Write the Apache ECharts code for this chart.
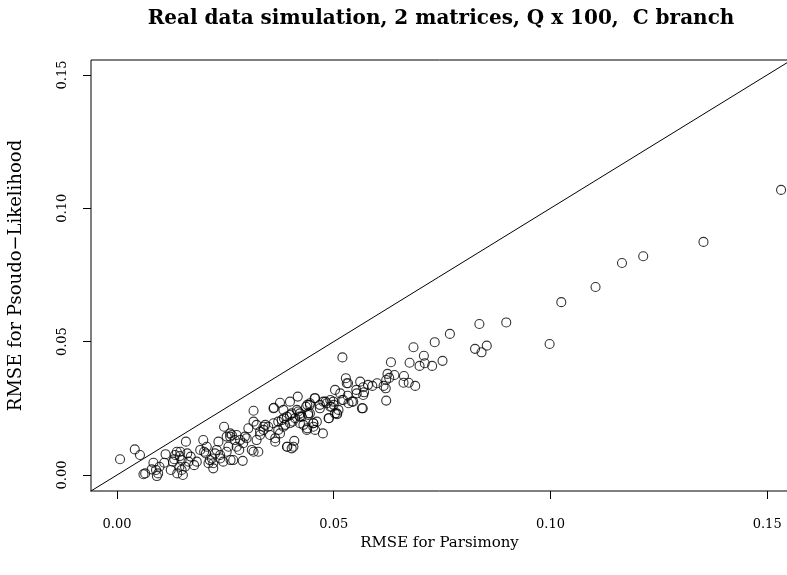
<!DOCTYPE html>
<html><head><meta charset="utf-8">
<script src="https://cdn.jsdelivr.net/npm/echarts@6/dist/echarts.min.js"></script>
<style>html,body{margin:0;padding:0;background:#fff}#c{width:787px;height:575px}</style>
</head><body><div id="c"></div>
<script>
const chartTitle = 'Real data simulation, 2 matrices, Q x 100,  C branch';
const xTitle = 'RMSE for Parsimony';
const yTitle = 'RMSE for Psoudo\u2212Likelihood';
const xTicks = [0, 0.05, 0.10, 0.15];
const yTicks = [0, 0.05, 0.10, 0.15];
const xRange = [-0.006, 0.1548];
const yRange = [-0.006, 0.1556];
// y = x reference line
const identityLine = [[-0.02, -0.02], [0.2, 0.2]];
// [RMSE Parsimony, RMSE Pseudo-Likelihood]
const rmsePairs = [
[0.0007,0.0059],[0.0041,0.0096],[0.0053,0.0075],[0.0061,0.0003],[0.0065,0.0006],[0.0084,0.0046],[0.0080,0.0021],[0.0090,0.0019],[0.0095,0.0006],[0.0092,-0.0004],
[0.0098,0.0031],[0.0109,0.0046],[0.0112,0.0078],[0.0124,0.0019],[0.0129,0.0050],[0.0134,0.0075],[0.0146,0.0087],[0.0149,0.0056],[0.0139,0.0006],[0.0152,0.0000],
[0.0159,0.0125],[0.0157,0.0031],[0.0165,0.0050],[0.0162,0.0081],[0.0170,0.0069],[0.0178,0.0037],[0.0184,0.0050],[0.0192,0.0094],[0.0199,0.0131],[0.0205,0.0081],
[0.0207,0.0106],[0.0214,0.0056],[0.0222,0.0044],[0.0226,0.0081],[0.0234,0.0125],[0.0238,0.0062],[0.0247,0.0181],[0.0253,0.0144],[0.0257,0.0106],
[0.0132,0.0059],[0.0138,0.0087],[0.0145,0.0071],[0.0144,0.0031],[0.0149,0.0019],[0.0201,0.0087],[0.0211,0.0044],[0.0219,0.0062],[0.0222,0.0025],[0.0230,0.0094],
[0.0238,0.0075],[0.0245,0.0050],[0.0261,0.0144],[0.0268,0.0056],[0.0253,0.0087],
[0.0265,0.0150],[0.0272,0.0131],[0.0276,0.0106],[0.0262,0.0056],[0.0290,0.0053],[0.0282,0.0094],[0.0291,0.0119],[0.0299,0.0138],[0.0303,0.0175],[0.0315,0.0241],
[0.0311,0.0094],[0.0315,0.0087],[0.0326,0.0087],[0.0322,0.0131],[0.0330,0.0150],[0.0338,0.0169],[0.0342,0.0188],[0.0349,0.0181],[0.0361,0.0250],[0.0376,0.0271],
[0.0365,0.0138],[0.0376,0.0156],[0.0372,0.0200],[0.0385,0.0213],[0.0384,0.0181],[0.0392,0.0106],[0.0407,0.0106],[0.0409,0.0128],[0.0415,0.0244],[0.0417,0.0294],
[0.0399,0.0225],[0.0405,0.0200],[0.0422,0.0219],[0.0430,0.0188],[0.0438,0.0169],[0.0453,0.0181],[0.0457,0.0288],[0.0445,0.0263],[0.0441,0.0231],[0.0461,0.0200],
[0.0475,0.0156],[0.0488,0.0213],[0.0484,0.0269],[0.0495,0.0256],[0.0499,0.0275],[0.0507,0.0231],[0.0503,0.0319],[0.0522,0.0281],[0.0530,0.0344],[0.0534,0.0269],
[0.0542,0.0275],[0.0567,0.0250],[0.0553,0.0306],[0.0568,0.0300],
[0.0362,0.0252],[0.0295,0.0144],[0.0315,0.0200],[0.0322,0.0188],[0.0330,0.0163],[0.0338,0.0181],[0.0353,0.0150],[0.0361,0.0194],[0.0365,0.0125],[0.0372,0.0169],
[0.0380,0.0206],[0.0388,0.0188],[0.0392,0.0219],[0.0399,0.0194],[0.0403,0.0231],[0.0411,0.0213],[0.0418,0.0238],[0.0422,0.0194],[0.0426,0.0219],[0.0436,0.0256],
[0.0441,0.0225],[0.0445,0.0269],[0.0453,0.0194],[0.0468,0.0263],[0.0476,0.0275],[0.0492,0.0281],[0.0503,0.0231],[0.0511,0.0244],[0.0403,0.0100],
[0.0261,0.0156],[0.0276,0.0150],[0.0284,0.0131],
[0.0836,0.0566],[0.0768,0.0529],[0.0733,0.0498],[0.0684,0.0479],[0.0826,0.0473],[0.0853,0.0485],[0.0841,0.0460],[0.0708,0.0447],[0.0675,0.0421],[0.0632,0.0423],
[0.0698,0.0409],[0.0710,0.0419],[0.0727,0.0409],[0.0751,0.0428],[0.0520,0.0441],[0.0624,0.0379],[0.0640,0.0375],[0.0662,0.0371],[0.0661,0.0346],[0.0673,0.0346],
[0.0688,0.0334],[0.0621,0.0356],[0.0628,0.0364],[0.0615,0.0334],[0.0620,0.0325],[0.0600,0.0344],[0.0589,0.0334],[0.0579,0.0338],[0.0561,0.0350],[0.0568,0.0329],
[0.0570,0.0310],[0.0552,0.0319],[0.0528,0.0363],[0.0533,0.0344],[0.0515,0.0306],[0.0532,0.0297],[0.0519,0.0281],[0.0545,0.0275],[0.0565,0.0250],[0.0621,0.0279],
[0.0456,0.0288],[0.0481,0.0275],[0.0492,0.0256],[0.0500,0.0263],[0.0439,0.0263],[0.0445,0.0231],[0.0468,0.0250],[0.0489,0.0213],[0.0508,0.0228],[0.0453,0.0194],
[0.0457,0.0169],[0.0439,0.0175],[0.0393,0.0106],[0.0384,0.0244],[0.0399,0.0275],[0.0422,0.0231],
[0.1532,0.1069],[0.1353,0.0874],[0.1214,0.0820],[0.1165,0.0795],[0.1104,0.0705],[0.1025,0.0648],[0.0898,0.0572],[0.0998,0.0491]
];

const font = 'DejaVu Serif';
const chart = echarts.init(document.getElementById('c'), null, {renderer: 'canvas'});
chart.setOption({
  animation: false,
  backgroundColor: '#fff',
  title: {
    text: chartTitle, left: 441, top: 9, padding: 0, textAlign: 'center',
    textStyle: {fontFamily: font, fontWeight: 'bold', fontSize: 20, color: '#000'}
  },
  grid: {left: 91, top: 60, width: 697, height: 431, show: true, borderColor: '#000', borderWidth: 1, backgroundColor: 'transparent', outerBoundsMode: 'none', containLabel: false},
  xAxis: {
    type: 'value', min: xRange[0], max: xRange[1],
    name: xTitle, nameLocation: 'middle', nameGap: 42,
    nameTextStyle: {fontFamily: font, fontSize: 15, color: '#000'},
    axisLine: {show: false, onZero: false},
    splitLine: {show: false},
    axisTick: {show: true, inside: false, length: 8, customValues: xTicks, lineStyle: {color: '#000', width: 1}},
    axisLabel: {customValues: xTicks, margin: 27, fontFamily: font, fontSize: 13, color: '#000', formatter: v => v.toFixed(2)}
  },
  yAxis: {
    type: 'value', min: yRange[0], max: yRange[1],
    name: yTitle, nameLocation: 'middle', nameGap: 66, nameRotate: 90,
    nameTextStyle: {fontFamily: font, fontSize: 18, color: '#000'},
    axisLine: {show: false, onZero: false},
    splitLine: {show: false},
    axisTick: {show: true, inside: false, length: 8, customValues: yTicks, lineStyle: {color: '#000', width: 1}},
    axisLabel: {customValues: yTicks, rotate: 90, margin: 22, fontFamily: font, fontSize: 13, color: '#000', formatter: v => v.toFixed(2)}
  },
  series: [
    {
      type: 'line', data: identityLine, symbol: 'none', clip: true, silent: true,
      lineStyle: {color: '#000', width: 1}
    },
    {
      type: 'scatter', data: rmsePairs, symbol: 'circle', symbolSize: 9,
      itemStyle: {color: 'rgba(0,0,0,0)', borderColor: '#000', borderWidth: 1.1}
    }
  ]
});
</script></body></html>
